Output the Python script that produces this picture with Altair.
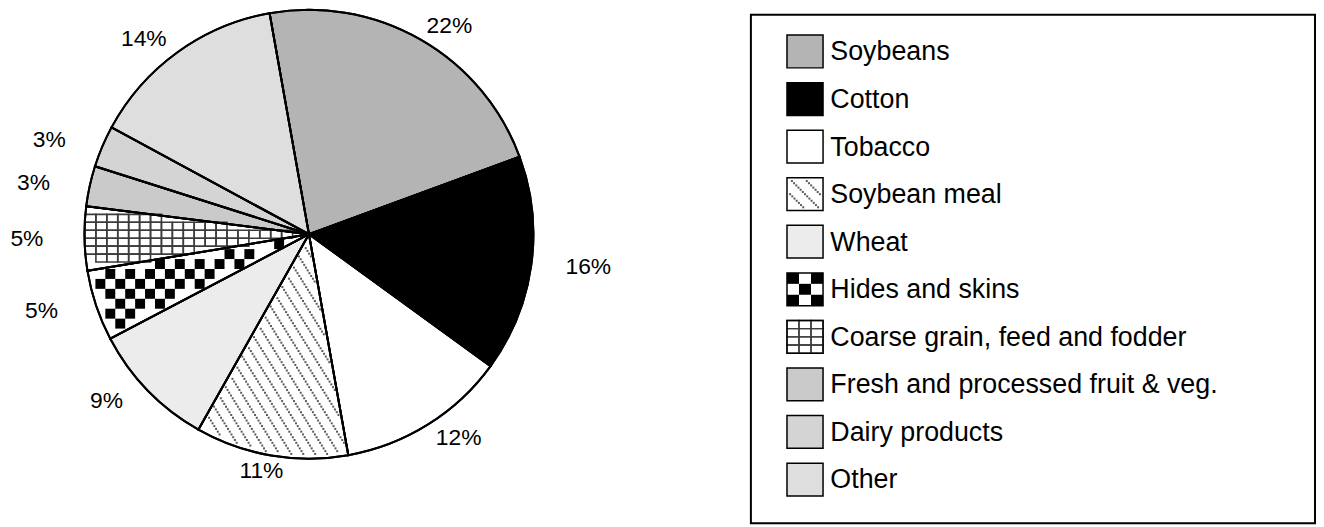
import math
import pandas as pd
import altair as alt

# ---- data ----
categories = [
    "Soybeans",
    "Cotton",
    "Tobacco",
    "Soybean meal",
    "Wheat",
    "Hides and skins",
    "Coarse grain, feed and fodder",
    "Fresh and processed fruit & veg.",
    "Dairy products",
    "Other",
]
shares = [22.2, 15.6, 12.2, 11.0, 9.1, 5.1, 4.6, 2.9, 3.0, 14.3]
fills = [
    "#b4b4b4",  # Soybeans (solid grey)
    "#000000",  # Cotton (black)
    "#ffffff",  # Tobacco (white)
    "#ffffff",  # Soybean meal (white + dotted diagonal lines)
    "#ececec",  # Wheat (very light grey)
    "#ffffff",  # Hides and skins (white + black checkerboard)
    "#ffffff",  # Coarse grain (white + grey grid)
    "#cacaca",  # Fresh fruit & veg (dense dots)
    "#d4d4d4",  # Dairy products (light grey)
    "#dedede",  # Other (diamond dots)
]

START = math.radians(-10.1)
FONT = "Liberation Sans"
PIE_R = 226
LAB_A = 284  # horizontal label distance
LAB_B = 242  # vertical label distance
PW, PH = 606, 442          # pie panel
CX, CY = PW / 2, PH / 2    # arc centre (Vega-Lite default)
LW, LH = 568, 512          # legend panel
ROW0, ROW1 = 37, 468       # legend row range
SX = 54.5                  # legend swatch centre x
TWO_PI = 2 * math.pi
TOTAL = sum(shares)

df = pd.DataFrame({"category": categories, "share": shares, "idx": list(range(len(categories)))})

fill_scale = alt.Scale(domain=categories, range=fills)
theta_scale = alt.Scale(range=[START, START + TWO_PI])


def slice_angles(k):
    a0 = (START + TWO_PI * sum(shares[:k]) / TOTAL) % TWO_PI
    return a0, a0 + TWO_PI * shares[k] / TOTAL


def inside_expr(k, hx, hy):
    """Every corner of the box (px±hx, py±hy) lies inside slice k."""
    a0, a1 = slice_angles(k)
    conds = []
    for sx in (-1, 1):
        for sy in (-1, 1):
            X = f"(datum.px + {sx * hx})"
            Y = f"(datum.py + {sy * hy})"
            ang = f"((atan2({X} - {CX}, {CY} - {Y}) + 2 * PI) % (2 * PI))"
            rad = f"sqrt(pow({X} - {CX}, 2) + pow({Y} - {CY}, 2))"
            conds.append(f"({ang} >= {a0:.5f} && {ang} <= {a1:.5f} && {rad} <= {PIE_R - 1.5})")
    return " && ".join(conds)


def grid_texture(k, cw, ch, tol, extra=None):
    nx = int(2 * PIE_R / cw) + 4
    ny = int(2 * PIE_R / ch) + 4
    t = (
        alt.Chart(alt.sequence(0, nx * ny))
        .transform_calculate(gx=f"datum.data % {nx}", gy=f"floor(datum.data / {nx})")
        .transform_calculate(px=f"{CX} + (datum.gx - {nx // 2}) * {cw}",
                             py=f"{CY} + (datum.gy - {ny // 2}) * {ch}")
    )
    if extra:
        t = t.transform_filter(extra)
    return t.transform_filter(inside_expr(k, cw / 2 - tol, ch / 2 - tol))


def xy_pix():
    return dict(x=alt.X("px:Q", scale=None), y=alt.Y("py:Q", scale=None))


# --- pie ---
arcs = alt.Chart(df).mark_arc(outerRadius=PIE_R, stroke="black", strokeWidth=2).encode(
    theta=alt.Theta("share:Q", stack=True, scale=theta_scale),
    fill=alt.Fill("category:N", scale=fill_scale, legend=None),
    order=alt.Order("idx:Q"),
)

k_hides = categories.index("Hides and skins")
k_coarse = categories.index("Coarse grain, feed and fodder")
k_meal = categories.index("Soybean meal")

checker = grid_texture(k_hides, 10, 10, 2, extra="(datum.gx + datum.gy) % 2 == 0").mark_point(
    shape="M-1,-1H1V1H-1Z", size=100, filled=True, color="black", opacity=1, strokeWidth=0
).encode(**xy_pix())

grid = grid_texture(k_coarse, 11, 8, 2).mark_point(
    shape="M-1,-0.7273H1V0.7273H-1Z", size=121, filled=False, color="#3c3c3c", opacity=1,
    strokeWidth=1.6,
).encode(**xy_pix())

# dotted diagonal lines (Soybean meal)
NA, NB = 165, 63
meal = (
    alt.Chart(alt.sequence(0, NA * NB))
    .transform_calculate(ga=f"datum.data % {NA} - {NA // 2}", gb=f"floor(datum.data / {NA}) - {NB // 2}")
    .transform_calculate(px=f"{CX} + datum.ga * 1.75 + datum.gb * 12",
                         py=f"{CY} + datum.ga * 2.8")
    .transform_filter(inside_expr(k_meal, 1.5, 1.5))
    .mark_point(shape="square", size=4, filled=True, color="#5a5a5a", opacity=1, strokeWidth=0)
    .encode(**xy_pix())
)

outline = alt.Chart(df).mark_arc(outerRadius=PIE_R, stroke="black", strokeWidth=2, fillOpacity=0).encode(
    theta=alt.Theta("share:Q", stack=True, scale=theta_scale),
    order=alt.Order("idx:Q"),
)

labels = (
    alt.Chart(df)
    .transform_window(cum="sum(share)", sort=[alt.SortField("idx")])
    .transform_joinaggregate(total="sum(share)")
    .transform_calculate(
        mid=f"((datum.cum - datum.share / 2) / datum.total) * 2 * PI + ({START})",
        lx=f"{LAB_A} * sin(datum.mid)",
        ly=f"{LAB_B} * cos(datum.mid)",
        phi="atan2(datum.lx, datum.ly)",
        rr="sqrt(datum.lx * datum.lx + datum.ly * datum.ly)",
        label="format(datum.share, '.0f') + '%'",
    )
    .mark_text(fontSize=23, font=FONT, color="black", align="center", baseline="middle")
    .encode(
        theta=alt.Theta("phi:Q", scale=None),
        radius=alt.Radius("rr:Q", scale=None),
        text="label:N",
    )
)

pie = alt.layer(arcs, checker, grid, meal, outline, labels).properties(
    width=PW, height=PH, view=alt.ViewBackground(stroke="transparent", strokeWidth=0)
)

# --- legend ---
ypos = alt.Y("category:N", sort=categories, axis=None,
             scale=alt.Scale(type="point", range=[ROW0, ROW1], padding=0))
SWATCH = "M-1.1,-1H1.1V1H-1.1Z"


def row_y(k):
    return ROW0 + k * (ROW1 - ROW0) / (len(categories) - 1)


def legend_cells(k, nx, ny, cw, ch, extra=None):
    t = (
        alt.Chart(alt.sequence(0, nx * ny))
        .transform_calculate(gx=f"datum.data % {nx}", gy=f"floor(datum.data / {nx})")
        .transform_calculate(px=f"{SX} + (datum.gx - {(nx - 1) / 2}) * {cw}",
                             py=f"{row_y(k)} + (datum.gy - {(ny - 1) / 2}) * {ch}")
    )
    if extra:
        t = t.transform_filter(extra)
    return t


squares = alt.Chart(df).mark_point(
    shape=SWATCH, size=1089, filled=True, opacity=1, strokeWidth=0,
).encode(
    x=alt.value(SX),
    y=ypos,
    fill=alt.Fill("category:N", scale=fill_scale, legend=None),
)

lg_checker = legend_cells(k_hides, 3, 3, 12.1, 11, extra="(datum.gx + datum.gy) % 2 == 0").mark_point(
    shape="M-1.1,-1H1.1V1H-1.1Z", size=30.25, filled=True, color="black", opacity=1, strokeWidth=0
).encode(**xy_pix())
lg_checker = lg_checker.mark_point(
    shape="M-1.1,-1H1.1V1H-1.1Z", size=121, filled=True, color="black", opacity=1, strokeWidth=0
)

lg_grid = legend_cells(k_coarse, 3, 4, 12.1, 8.25).mark_point(
    shape="M-1.1,-0.75H1.1V0.75H-1.1Z", size=121, filled=False, color="#3c3c3c", opacity=1,
    strokeWidth=1.4,
).encode(**xy_pix())

lg_meal = (
    alt.Chart(alt.sequence(0, 21 * 5))
    .transform_calculate(ga="datum.data % 21 - 10", gb="floor(datum.data / 21) - 2")
    .transform_calculate(px=f"{SX} + datum.ga * 2.2 + datum.gb * 15",
                         py=f"{row_y(k_meal)} + datum.ga * 2.2")
    .transform_filter(f"abs(datum.px - {SX}) <= 16.5 && abs(datum.py - {row_y(k_meal)}) <= 14.5")
    .mark_point(shape="square", size=4, filled=True, color="#5a5a5a", opacity=1, strokeWidth=0)
    .encode(**xy_pix())
)

frames = alt.Chart(df).mark_point(
    shape=SWATCH, size=1089, filled=False, opacity=1, color="black", strokeWidth=1.5,
).encode(x=alt.value(SX), y=ypos)

names = alt.Chart(df).mark_text(
    fontSize=27, font=FONT, align="left", baseline="middle", color="black", dy=1,
).encode(
    x=alt.value(80),
    y=ypos,
    text="category:N",
)

legend = alt.layer(squares, lg_checker, lg_grid, lg_meal, frames, names).properties(
    width=LW, height=LH, view=alt.ViewBackground(stroke="black", strokeWidth=2)
)

chart = (
    alt.hconcat(pie, legend, spacing=139)
    .properties(padding={"left": 0, "top": -4, "right": 0, "bottom": 0})
    .configure_view(strokeWidth=0)
    .configure(background="white", font=FONT)
)

chart.save("out.html", embed_options={"renderer": "svg", "actions": False})
